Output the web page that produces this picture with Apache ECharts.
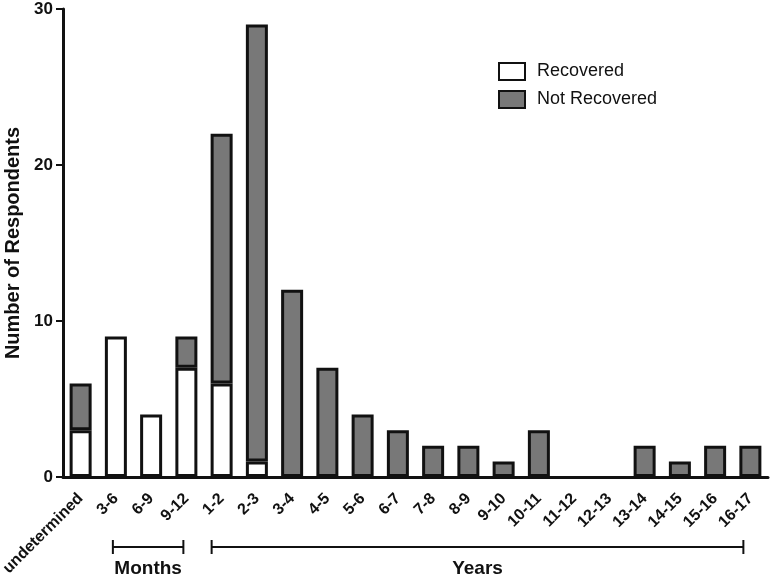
<!DOCTYPE html>
<html>
<head>
<meta charset="utf-8">
<script src="https://cdn.jsdelivr.net/npm/echarts@6/dist/echarts.min.js"></script>
<style>
html,body{margin:0;padding:0;background:#fff;}
#chart{width:771px;height:578px;}
</style>
</head>
<body>
<div id="chart"></div>
<script>
var categories = ['undetermined','3-6','6-9','9-12','1-2','2-3','3-4','4-5','5-6','6-7','7-8','8-9','9-10','10-11','11-12','12-13','13-14','14-15','15-16','16-17'];
var recovered    = [3, 9, 4, 7, 6, 1, 0, 0, 0, 0, 0, 0, 0, 0, 0, 0, 0, 0, 0, 0];
var notRecovered = [3, 0, 0, 2, 16, 28, 12, 7, 4, 3, 2, 2, 1, 3, 0, 0, 2, 1, 2, 2];
var yTicks = [0, 10, 20, 30];

function nz(arr){ return arr.map(function(v){ return v === 0 ? null : v; }); }

var FONT = 'Liberation Sans, Arial, sans-serif';
var chart = echarts.init(document.getElementById('chart'), null, {renderer:'canvas'});
chart.setOption({
  animation: false,
  backgroundColor: '#fff',
  grid: {left: 63, right: 3, top: 9, bottom: 101, containLabel: false, outerBoundsMode: 'none'},
  legend: {
    orient: 'vertical', left: 493, top: 57,
    itemWidth: 26, itemHeight: 17, itemGap: 9,
    icon: 'rect',
    textStyle: {fontFamily: FONT, fontSize: 18, color: '#111', padding: [0,0,0,7]},
    data: ['Recovered', 'Not Recovered']
  },
  xAxis: {
    type: 'category', data: categories,
    axisLine: {lineStyle: {color: '#111', width: 3}},
    axisTick: {alignWithLabel: true, length: 7, lineStyle: {color: '#111', width: 2}},
    axisLabel: {rotate: 45, margin: 19, fontFamily: FONT, fontWeight: 'bold', fontSize: 16, color: '#111', interval: 0}
  },
  yAxis: {
    type: 'value', min: yTicks[0], max: yTicks[yTicks.length-1], interval: 10,
    splitLine: {show: false},
    axisLine: {show: true, lineStyle: {color: '#111', width: 3}},
    axisTick: {show: true, length: 7, lineStyle: {color: '#111', width: 2}},
    axisLabel: {margin: 10, fontFamily: FONT, fontWeight: 'bold', fontSize: 17, color: '#111'},
    name: 'Number of Respondents', nameLocation: 'middle', nameGap: 40,
    nameTextStyle: {fontFamily: FONT, fontWeight: 'bold', fontSize: 20, color: '#111'}
  },
  series: [
    {name: 'Recovered', type: 'bar', stack: 'a', data: nz(recovered), barWidth: 22,
     itemStyle: {color: '#ffffff', borderColor: '#111', borderWidth: 3}},
    {name: 'Not Recovered', type: 'bar', stack: 'a', data: nz(notRecovered), barWidth: 22,
     itemStyle: {color: '#787878', borderColor: '#111', borderWidth: 3}}
  ]
});

function bracket(x1, x2, y, label){
  var ls = {stroke: '#111', lineWidth: 2};
  return [
    {type:'line', shape:{x1:x1,y1:y,x2:x2,y2:y}, style:ls},
    {type:'line', shape:{x1:x1,y1:y-7,x2:x1,y2:y+7}, style:ls},
    {type:'line', shape:{x1:x2,y1:y-7,x2:x2,y2:y+7}, style:ls},
    {type:'text', x:(x1+x2)/2, y:y+22, style:{text:label, fill:'#111', font:'bold 19px ' + FONT, textAlign:'center', textVerticalAlign:'middle'}}
  ];
}
var cx = function(c){ return chart.convertToPixel({xAxisIndex:0}, c); };
var els = bracket(cx('3-6') - 3, cx('9-12') - 3, 547, 'Months')
  .concat(bracket(cx('1-2') - 10, cx('16-17') - 7, 547, 'Years'));
chart.setOption({graphic: els});
</script>
</body>
</html>
